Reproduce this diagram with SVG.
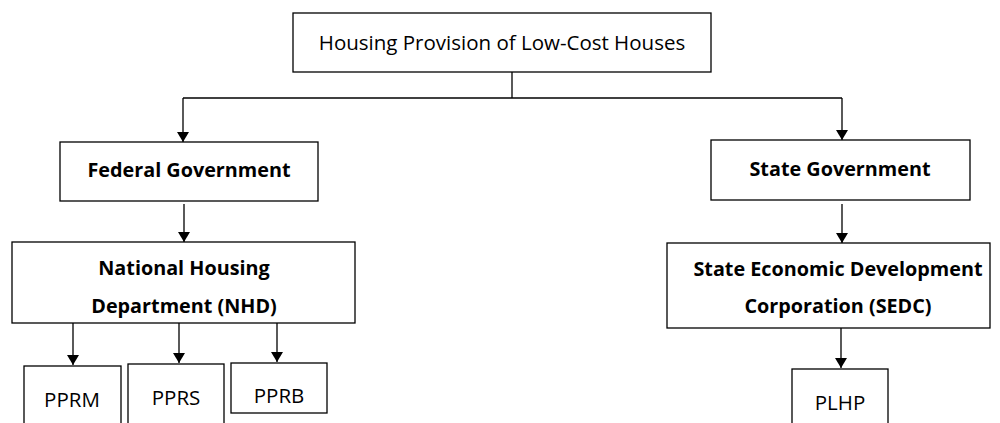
<svg xmlns="http://www.w3.org/2000/svg" width="1000" height="423" viewBox="0 0 1000 423">
<style>
.box{fill:#fff;stroke:#000;stroke-width:1.3}
.t{font-family:"Open Sans","Liberation Sans",sans-serif;font-size:20.5px;fill:#000;text-anchor:middle}
.b{font-weight:bold;font-size:19.8px}
.c{fill:none;stroke:#000;stroke-width:1.3}
</style>
<defs>
<marker id="ah" viewBox="0 0 10 12" refX="10" refY="6" markerWidth="11" markerHeight="12" markerUnits="userSpaceOnUse" orient="auto">
<path d="M0,0 L10,6 L0,12 Z" fill="#000"/>
</marker>
</defs>
<rect width="1000" height="423" fill="#fff"/>
<g id="connectors">
<path class="c" d="M512,72 V98"/>
<path class="c" d="M183,98 H842"/>
<path class="c" d="M183,98 V142" marker-end="url(#ah)"/>
<path class="c" d="M842,98 V140" marker-end="url(#ah)"/>
<path class="c" d="M184,204 V242" marker-end="url(#ah)"/>
<path class="c" d="M842,204 V243" marker-end="url(#ah)"/>
<path class="c" d="M73,323 V365" marker-end="url(#ah)"/>
<path class="c" d="M179,323 V363" marker-end="url(#ah)"/>
<path class="c" d="M277,323 V362" marker-end="url(#ah)"/>
<path class="c" d="M841,328 V368" marker-end="url(#ah)"/>
</g>
<g id="root">
<rect class="box" x="293" y="13" width="418" height="59"/>
<text class="t" x="502" y="50">Housing Provision of Low-Cost Houses</text>
</g>
<g id="federal">
<rect class="box" x="60" y="142" width="258" height="59"/>
<text class="t b" x="189" y="177">Federal Government</text>
</g>
<g id="state">
<rect class="box" x="711" y="140" width="259" height="60"/>
<text class="t b" x="840" y="176">State Government</text>
</g>
<g id="nhd">
<rect class="box" x="12" y="242" width="343" height="81"/>
<text class="t b" x="184" y="275">National Housing</text>
<text class="t b" x="184" y="313">Department (NHD)</text>
</g>
<g id="sedc">
<rect class="box" x="667" y="243" width="323" height="85"/>
<text class="t b" x="838" y="276">State Economic Development</text>
<text class="t b" x="838" y="313">Corporation (SEDC)</text>
</g>
<g id="pprm">
<rect class="box" x="24" y="366" width="97" height="70"/>
<text class="t" x="72" y="407">PPRM</text>
</g>
<g id="pprs">
<rect class="box" x="128" y="364" width="96" height="72"/>
<text class="t" x="176" y="405">PPRS</text>
</g>
<g id="pprb">
<rect class="box" x="231" y="363" width="96" height="50"/>
<text class="t" x="279" y="403">PPRB</text>
</g>
<g id="plhp">
<rect class="box" x="792" y="369" width="96" height="70"/>
<text class="t" x="840" y="410">PLHP</text>
</g>
</svg>
